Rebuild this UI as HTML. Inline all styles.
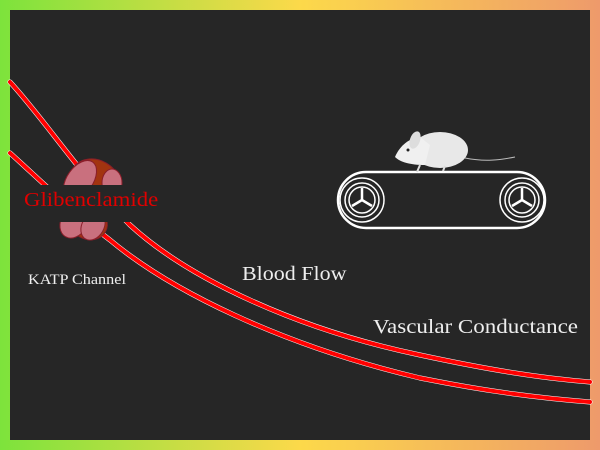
<!DOCTYPE html>
<html><head><meta charset="utf-8"><style>
html,body{margin:0;padding:0}
body{width:600px;height:450px;background:linear-gradient(90deg,#7de33c 0%,#fcd94a 50%,#ee9a6b 100%);position:relative;overflow:hidden;font-family:"Liberation Serif",serif}
#in{position:absolute;left:10px;top:10px;width:580px;height:430px;background:#262626}
svg{position:absolute;left:0;top:0}
.t{position:absolute;white-space:nowrap;color:#fff;transform-origin:0 0}
</style></head><body>
<div id="in"></div>
<svg width="600" height="450" viewBox="0 0 600 450">
<g fill="none" stroke-linecap="round">
<path d="M10,82 C45,120 80,175 130,225 C190,280 300,330 420,355 C490,370 540,378 590,382" stroke="#fff" stroke-width="5"/>
<path d="M10,82 C45,120 80,175 130,225 C190,280 300,330 420,355 C490,370 540,378 590,382" stroke="#f00" stroke-width="4"/>
<path d="M10,153 C40,180 70,210 110,240 C170,290 280,345 420,378 C490,392 540,398 590,402" stroke="#fff" stroke-width="5"/>
<path d="M10,153 C40,180 70,210 110,240 C170,290 280,345 420,378 C490,392 540,398 590,402" stroke="#f00" stroke-width="4"/>
</g>
<g stroke="#8a1e2a" stroke-width="1">
<ellipse cx="95" cy="182" rx="26" ry="22" fill="#a23410" transform="rotate(30 95 182)"/>
<ellipse cx="80" cy="180" rx="13" ry="22" fill="#c9707e" transform="rotate(35 80 180)"/>
<ellipse cx="112" cy="183" rx="10" ry="14" fill="#c9707e"/>
<ellipse cx="88" cy="222" rx="20" ry="17" fill="#a23410" transform="rotate(30 88 222)"/>
<ellipse cx="74" cy="222" rx="13" ry="17" fill="#c9707e" transform="rotate(30 74 222)"/>
<ellipse cx="93" cy="226" rx="11" ry="15" fill="#c9707e" transform="rotate(30 93 226)"/>
</g>
<rect x="10" y="185" width="148" height="37" fill="#262626"/>
<g fill="none" stroke="#fff">
<rect x="338" y="172" width="207" height="56" rx="28" stroke-width="2.5"/>
<circle cx="362" cy="200" r="22" stroke-width="1.5"/>
<circle cx="362" cy="200" r="17" stroke-width="1.5"/>
<circle cx="362" cy="200" r="13" stroke-width="1.5"/>
<path d="M362,200 L362,188 M362,200 L352,206 M362,200 L372,206" stroke-width="2.5"/>
<circle cx="522" cy="200" r="22" stroke-width="1.5"/>
<circle cx="522" cy="200" r="17" stroke-width="1.5"/>
<circle cx="522" cy="200" r="13" stroke-width="1.5"/>
<path d="M522,200 L522,188 M522,200 L512,206 M522,200 L532,206" stroke-width="2.5"/>
<path d="M465,158 C485,162 500,160 515,157" stroke="#bbb" stroke-width="1"/>
</g>
<g>
<ellipse cx="440" cy="150" rx="28" ry="18" fill="#e8e8e8"/>
<path d="M395,157 C400,145 410,138 420,137 L430,145 L425,165 C410,165 400,162 395,157Z" fill="#f0f0f0"/>
<ellipse cx="415" cy="140" rx="5" ry="9" fill="#ddd" transform="rotate(20 415 140)"/>
<circle cx="408" cy="150" r="1.5" fill="#222"/>
<path d="M420,165 l-3,7 M445,166 l-2,5" stroke="#ddd" stroke-width="2"/>
</g>
</svg>
<div class="t" style="left:24px;top:189px;font-size:20px;color:#e00000;transform:scaleX(1.14)">Glibenclamide</div>
<div class="t" style="left:28px;top:272px;font-size:15px;color:#eee;transform:scaleX(1.08)">KATP Channel</div>
<div class="t" style="left:242px;top:263px;font-size:20px;color:#eee;transform:scaleX(1.1)">Blood Flow</div>
<div class="t" style="left:373px;top:316px;font-size:20px;color:#eee;transform:scaleX(1.15)">Vascular Conductance</div>
</body></html>
